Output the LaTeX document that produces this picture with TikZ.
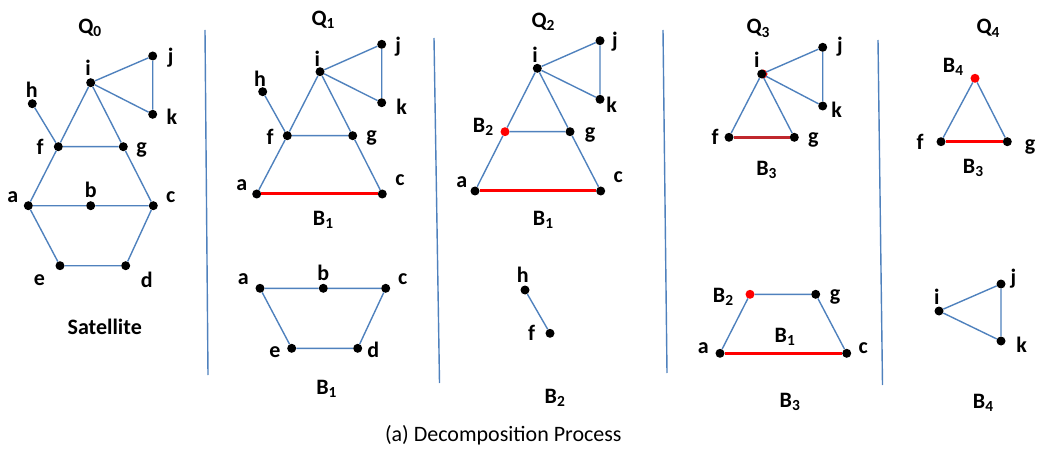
\documentclass[tikz,border=0pt]{standalone}
\usepackage{fontspec}
\setmainfont{Carlito}
\begin{document}
\begin{tikzpicture}[x=1pt,y=-1pt,
  v/.style={circle,fill=black,inner sep=0pt,minimum size=9pt},
  rv/.style={circle,fill=red,inner sep=0pt,minimum size=9pt},
  lbl/.style={inner sep=0pt,font=\bfseries\fontsize{22}{26}\selectfont},
  captxt/.style={inner sep=0pt,font=\fontsize{22}{26}\selectfont},
  e/.style={draw=edgeblue,line width=1.4pt},
  re/.style={draw=red,line width=3pt},
  dre/.style={draw=darkred,line width=3pt},
  div/.style={draw=edgeblue,line width=1.4pt}]
\definecolor{edgeblue}{HTML}{4F81BD}
\definecolor{darkred}{HTML}{C0282D}
\useasboundingbox (0,0) rectangle (1038,449);

% ---------- dividers
\coordinate (d1t) at (205,30);  \coordinate (d1b) at (208,375);
\coordinate (d2t) at (434,38);  \coordinate (d2b) at (439.5,383);
\coordinate (d3t) at (663,30);  \coordinate (d3b) at (667,373);
\coordinate (d4t) at (878,40);  \coordinate (d4b) at (882.5,385);
\draw[div] (d1t) -- (d1b);
\draw[div] (d2t) -- (d2b);
\draw[div] (d3t) -- (d3b);
\draw[div] (d4t) -- (d4b);

% ---------- Q0
\node[lbl] (Q0) at (90,28) {Q\textsubscript{0}};
\node[v] (q0i) at (90.7,82.7) {};
\node[v] (q0j) at (152.7,56) {};
\node[v] (q0k) at (152.7,114.3) {};
\node[v] (q0h) at (32.3,103.7) {};
\node[v] (q0f) at (58.3,146.7) {};
\node[v] (q0g) at (123.3,146.7) {};
\node[v] (q0a) at (28.3,205.7) {};
\node[v] (q0b) at (90.7,205.7) {};
\node[v] (q0c) at (153.3,205.7) {};
\node[v] (q0e) at (60,265.7) {};
\node[v] (q0d) at (125.7,265.7) {};
\node[lbl] (q0li) at (88,68) {i};
\node[lbl] (q0lj) at (170.7,58) {j};
\node[lbl] (q0lk) at (172,117) {k};
\node[lbl] (q0lh) at (31.7,90) {h};
\node[lbl] (q0lf) at (40,147) {f};
\node[lbl] (q0lg) at (141.7,150) {g};
\node[lbl] (q0la) at (12.7,196.7) {a};
\node[lbl] (q0lb) at (90.7,190) {b};
\node[lbl] (q0lc) at (170.7,196.7) {c};
\node[lbl] (q0le) at (39.3,280) {e};
\node[lbl] (q0ld) at (146.7,280) {d};
\node[lbl] (sat) at (104.7,327) {Satellite};
\draw[e] (q0i) -- (q0j) -- (q0k) -- (q0i);
\draw[e] (q0i) -- (q0f) -- (q0g) -- (q0i);
\draw[e] (q0h) -- (q0f);
\draw[e] (q0f) -- (q0a) -- (q0b) -- (q0c) -- (q0g);
\draw[e] (q0a) -- (q0e) -- (q0d) -- (q0c);

% ---------- Q1 top
\node[lbl] (Q1) at (323.3,20) {Q\textsubscript{1}};
\node[v] (q1i) at (320,71.7) {};
\node[v] (q1j) at (381.7,44.3) {};
\node[v] (q1k) at (381.7,102.7) {};
\node[v] (q1h) at (262.7,91.7) {};
\node[v] (q1f) at (287.3,135.7) {};
\node[v] (q1g) at (352.7,135.7) {};
\node[v] (q1a) at (256.7,194) {};
\node[v] (q1c) at (382.3,194) {};
\node[lbl] (q1li) at (317.3,58.3) {i};
\node[lbl] (q1lj) at (398.3,46.7) {j};
\node[lbl] (q1lk) at (401.7,106.7) {k};
\node[lbl] (q1lh) at (260,78.3) {h};
\node[lbl] (q1lf) at (270,136.7) {f};
\node[lbl] (q1lg) at (371.7,138.3) {g};
\node[lbl] (q1la) at (241.7,185) {a};
\node[lbl] (q1lc) at (400,180) {c};
\node[lbl] (q1B1) at (323.3,220) {B\textsubscript{1}};
\draw[e] (q1i) -- (q1j) -- (q1k) -- (q1i);
\draw[e] (q1i) -- (q1f) -- (q1g) -- (q1i);
\draw[e] (q1h) -- (q1f);
\draw[e] (q1f) -- (q1a);
\draw[e] (q1g) -- (q1c);
\draw[re] (q1a) -- (q1c);

% ---------- Q1 bottom
\node[v] (r1a) at (260,288.3) {};
\node[v] (r1b) at (323.3,288.3) {};
\node[v] (r1c) at (385.7,288.3) {};
\node[v] (r1e) at (291.7,348.3) {};
\node[v] (r1d) at (357.7,348.3) {};
\node[lbl] (r1la) at (243.3,279.3) {a};
\node[lbl] (r1lb) at (323.3,273.3) {b};
\node[lbl] (r1lc) at (402.7,279.3) {c};
\node[lbl] (r1le) at (275,351.7) {e};
\node[lbl] (r1ld) at (373.3,350) {d};
\node[lbl] (r1B1) at (326.7,389.3) {B\textsubscript{1}};
\draw[e] (r1a) -- (r1b) -- (r1c) -- (r1d) -- (r1e) -- (r1a);

% ---------- Q2 top
\node[lbl] (Q2) at (543.3,21.7) {Q\textsubscript{2}};
\node[v] (q2i) at (537.3,68.3) {};
\node[v] (q2j) at (600,40.7) {};
\node[v] (q2k) at (600,99.3) {};
\node[rv] (q2b2) at (505,131.7) {};
\node[v] (q2g) at (570,131.7) {};
\node[v] (q2a) at (475,191) {};
\node[v] (q2c) at (600.7,191) {};
\node[lbl] (q2li) at (535,55) {i};
\node[lbl] (q2lj) at (615,41.7) {j};
\node[lbl] (q2lk) at (611.7,105) {k};
\node[lbl] (q2lB2) at (483.3,126.7) {B\textsubscript{2}};
\node[lbl] (q2lg) at (590,135) {g};
\node[lbl] (q2la) at (461.7,181.7) {a};
\node[lbl] (q2lc) at (618.3,176.7) {c};
\node[lbl] (q2B1) at (543.3,220) {B\textsubscript{1}};
\draw[e] (q2i) -- (q2j) -- (q2k) -- (q2i);
\draw[e] (q2i) -- (q2b2) -- (q2g) -- (q2i);
\draw[e] (q2b2) -- (q2a);
\draw[e] (q2g) -- (q2c);
\draw[re] (q2a) -- (q2c);

% ---------- Q2 bottom
\node[v] (r2h) at (525,290) {};
\node[v] (r2f) at (550,333.3) {};
\node[lbl] (r2lh) at (522.7,275) {h};
\node[lbl] (r2lf) at (531.7,333.3) {f};
\node[lbl] (r2B2) at (555,398.3) {B\textsubscript{2}};
\draw[e] (r2h) -- (r2f);

% ---------- Q3 top
\node[lbl] (Q3) at (758.3,28.3) {Q\textsubscript{3}};
\node[rv] (q3ir) at (763,74) {};
\node[v] (q3i) at (761.7,74) {};
\node[v] (q3j) at (822.7,47.3) {};
\node[v] (q3k) at (822.7,106) {};
\node[v] (q3f) at (729,137.3) {};
\node[v] (q3g) at (794.3,137.3) {};
\node[lbl] (q3li) at (756.7,60) {i};
\node[lbl] (q3lj) at (840,46.7) {j};
\node[lbl] (q3lk) at (836.7,110) {k};
\node[lbl] (q3lf) at (715,136.7) {f};
\node[lbl] (q3lg) at (813.3,140) {g};
\node[lbl] (q3B3) at (766.7,170) {B\textsubscript{3}};
\draw[e] (q3i) -- (q3j) -- (q3k) -- (q3i);
\draw[e] (q3i) -- (q3f);
\draw[e] (q3i) -- (q3g);
\draw[dre] (q3f) -- (q3g);

% ---------- Q3 bottom
\node[rv] (r3b2) at (750,294.3) {};
\node[v] (r3g) at (815.7,294.3) {};
\node[v] (r3a) at (720,353.3) {};
\node[v] (r3c) at (846.7,353.3) {};
\node[lbl] (r3lB2) at (723.3,296.7) {B\textsubscript{2}};
\node[lbl] (r3lg) at (835,296.7) {g};
\node[lbl] (r3la) at (703.3,348.3) {a};
\node[lbl] (r3lc) at (863.3,348.3) {c};
\node[lbl] (r3B1) at (785,337.3) {B\textsubscript{1}};
\node[lbl] (r3B3) at (790,401.7) {B\textsubscript{3}};
\draw[e] (r3a) -- (r3b2) -- (r3g) -- (r3c);
\draw[re] (r3a) -- (r3c);

% ---------- Q4 top
\node[lbl] (Q4) at (988.3,28.3) {Q\textsubscript{4}};
\node[rv] (q4b4) at (975,78.3) {};
\node[v] (q4f) at (941,141.7) {};
\node[v] (q4g) at (1007.3,141.7) {};
\node[lbl] (q4lB4) at (953.3,66.7) {B\textsubscript{4}};
\node[lbl] (q4lf) at (920,141.7) {f};
\node[lbl] (q4lg) at (1030,146.7) {g};
\node[lbl] (q4B3) at (973.3,168.3) {B\textsubscript{3}};
\draw[e] (q4f) -- (q4b4) -- (q4g);
\draw[re] (q4f) -- (q4g);

% ---------- Q4 bottom
\node[v] (r4i) at (939,311) {};
\node[v] (r4j) at (1001,284) {};
\node[v] (r4k) at (1001,341) {};
\node[lbl] (r4li) at (936.7,296.7) {i};
\node[lbl] (r4lj) at (1013.3,278.3) {j};
\node[lbl] (r4lk) at (1021.7,345) {k};
\node[lbl] (r4B4) at (983.3,403.3) {B\textsubscript{4}};
\draw[e] (r4i) -- (r4j) -- (r4k) -- (r4i);

% ---------- caption
\node[captxt] (caption) at (503.3,435) {(a) Decomposition Process};
\end{tikzpicture}
\end{document}
